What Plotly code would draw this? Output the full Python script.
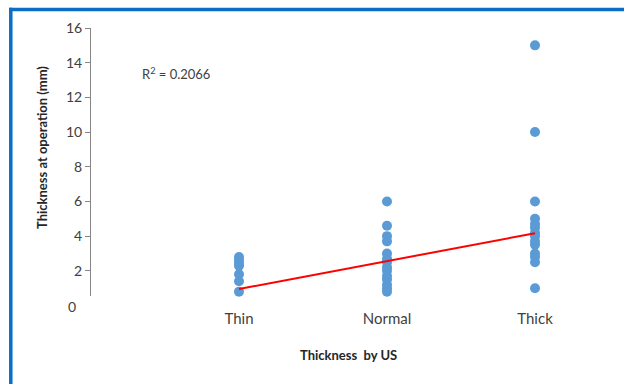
import plotly.graph_objects as go

categories = ["Thin", "Normal", "Thick"]
thin_vals = [2.8, 2.6, 2.4, 2.3, 1.8, 1.4, 0.8]
normal_vals = [6.0, 4.6, 4.0, 3.7, 3.0, 2.7, 2.5, 2.2, 2.0, 1.7, 1.5, 1.2, 1.0, 0.8]
thick_vals = [15.0, 10.0, 6.0, 5.0, 4.7, 4.5, 4.2, 4.0, 3.7, 3.5, 3.0, 2.8, 2.5, 1.0]
trend_x = [1, 3]
trend_y = [0.95, 4.17]
r2_text = "R<sup>2</sup> = 0.2066"
y_ticks = [2, 4, 6, 8, 10, 12, 14, 16]

xs, ys = [], []
for i, vals in enumerate([thin_vals, normal_vals, thick_vals], start=1):
    xs += [i] * len(vals)
    ys += vals

FONT = "Lato, 'Open Sans', sans-serif"
fig = go.Figure()
fig.add_trace(go.Scatter(x=xs, y=ys, mode="markers",
                         marker=dict(color="#5B9BD5", size=10, line=dict(width=0)),
                         showlegend=False, cliponaxis=False))
fig.add_trace(go.Scatter(x=trend_x, y=trend_y, mode="lines",
                         line=dict(color="#FF0000", width=2), showlegend=False))

L, R, T, B = 91, 15, 28, 88
W, H = 624, 384
pw, ph = W - L - R, H - T - B

def px(x):
    return (x - L) / pw

def py(y):
    return 1 - (y - T) / ph

fig.update_layout(
    width=W, height=H,
    margin=dict(l=L, r=R, t=T, b=B),
    paper_bgcolor="white", plot_bgcolor="white",
    font=dict(family=FONT, color="#404040"),
    xaxis=dict(range=[0, 3.5], tickvals=[1, 2, 3], ticktext=categories,
               showline=False, showgrid=False, zeroline=False,
               ticks="outside", ticklen=9, tickcolor="rgba(0,0,0,0)",
               tickfont=dict(size=15, color="#404040")),
    yaxis=dict(range=[0.55, 16], tickvals=y_ticks, showline=True,
               linecolor="#868686", linewidth=1, showgrid=False, zeroline=False,
               ticks="outside", ticklen=5, tickcolor="#868686",
               tickfont=dict(size=14, color="#404040")),
    shapes=[
        dict(type="line", xref="paper", yref="paper",
             x0=px(9), x1=px(624), y0=py(9.5), y1=py(9.5),
             line=dict(color="#0A6EC4", width=3.5)),
        dict(type="line", xref="paper", yref="paper",
             x0=px(10.8), x1=px(10.8), y0=py(7.7), y1=py(384),
             line=dict(color="#0A6EC4", width=3.5)),
    ],
    annotations=[
        dict(text=r2_text, xref="paper", yref="paper", x=px(140), y=py(73),
             xanchor="left", yanchor="middle", showarrow=False,
             font=dict(size=13, color="#404040")),
        dict(text="<b>Thickness  by US</b>", xref="paper", yref="paper",
             x=px(348), y=py(355), xanchor="center", yanchor="middle",
             showarrow=False, font=dict(size=13, color="#262626")),
        dict(text="<b>Thickness at operation (mm)</b>", xref="paper", yref="paper",
             x=px(42), y=py(148), xanchor="center", yanchor="middle",
             textangle=-90, showarrow=False, font=dict(size=13, color="#262626")),
        dict(text="0", xref="paper", yref="paper", x=px(78), y=py(306),
             xanchor="right", yanchor="middle", showarrow=False,
             font=dict(size=14, color="#404040")),
    ],
)

fig.write_html("out.html", config={"displayModeBar": False},
               post_script="document.body.style.margin='0';document.body.style.overflow='hidden';")
